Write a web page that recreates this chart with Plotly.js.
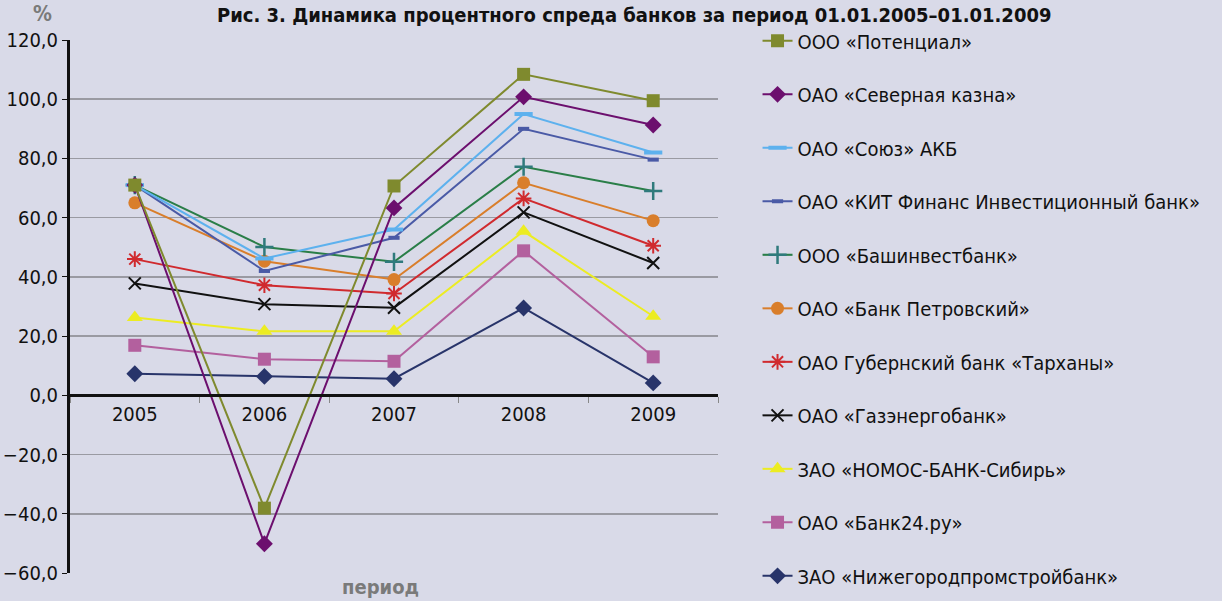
<!DOCTYPE html>
<html>
<head>
<meta charset="utf-8">
<script src="https://cdn.plot.ly/plotly-3.0.1.min.js"></script>
<style>
html,body{margin:0;padding:0;background:#d9dae8;}
#chart{width:1222px;height:601px;}
</style>
</head>
<body>
<div id="chart"></div>
<script>
const years = ['2005','2006','2007','2008','2009'];
const names = [
  'ООО «Потенциал»',
  'ОАО «Северная казна»',
  'ОАО «Союз» АКБ',
  'ОАО «КИТ Финанс Инвестиционный банк»',
  'ООО «Башинвестбанк»',
  'ОАО «Банк Петровский»',
  'ОАО Губернский банк «Тарханы»',
  'ОАО «Газэнергобанк»',
  'ЗАО «НОМОС-БАНК-Сибирь»',
  'ОАО «Банк24.ру»',
  'ЗАО «Нижегородпромстройбанк»'
];
const potencial   = [71.0, -38.1, 70.7, 108.4, 99.5];
const severnaya   = [71.0, -50.1, 63.3, 100.8, 91.3];
const soyuz       = [71.0, 46.2, 56.0, 95.0, 82.0];
const kit         = [71.0, 42.0, 53.2, 90.0, 79.6];
const bashinvest  = [71.0, 50.1, 45.1, 77.2, 69.0];
const petrovsky   = [65.0, 45.3, 39.1, 71.8, 59.0];
const tarkhany    = [46.0, 37.2, 34.4, 66.5, 50.5];
const gazenergo   = [37.8, 30.8, 29.6, 61.8, 44.7];
const nomos       = [26.3, 21.6, 21.6, 55.4, 26.7];
const bank24      = [16.9, 12.2, 11.5, 48.8, 13.0];
const nizhegorod  = [7.3, 6.4, 5.6, 29.5, 4.2];
const seriesValues = [potencial, severnaya, soyuz, kit, bashinvest, petrovsky, tarkhany, gazenergo, nomos, bank24, nizhegorod];
const yTicks = [-60, -40, -20, 0, 20, 40, 60, 80, 100, 120];

const styles = [
  {line:'#7f8a2e', marker:'#7f8a2e', symbol:'square', size:13, mlw:0},
  {line:'#6c0f6e', marker:'#6c0f6e', symbol:'diamond', size:13, mlw:0},
  {line:'#5db1ee', marker:'#5db1ee', symbol:'line-ew', size:13, mlw:4},
  {line:'#4a5aa6', marker:'#4a5aa6', symbol:'line-ew', size:8, mlw:4},
  {line:'#2a7e48', marker:'#2f7a7c', symbol:'cross-thin', size:13, mlw:2.5},
  {line:'#d97e2b', marker:'#d97e2b', symbol:'circle', size:13, mlw:0},
  {line:'#d02a2e', marker:'#d02a2e', symbol:'asterisk', size:13, mlw:2},
  {line:'#111111', marker:'#111111', symbol:'x-thin', size:12, mlw:2},
  {line:'#ecec22', marker:'#ecec22', symbol:'triangle-up', size:14, mlw:0},
  {line:'#b3609e', marker:'#b3609e', symbol:'square', size:13, mlw:0},
  {line:'#28346a', marker:'#28346a', symbol:'diamond', size:13, mlw:0}
];

const FONT = '"DejaVu Sans Condensed", "Liberation Sans Narrow", "Roboto", sans-serif';

const traces = names.map((n, i) => ({
  type:'scatter', mode:'lines+markers', name:n, x:years, y:seriesValues[i],
  legendgroup:'g'+i, legendrank:i+1,
  line:{color:styles[i].line, width:2},
  marker:{color:styles[i].marker, symbol:styles[i].symbol, size:styles[i].size,
          line:{color:styles[i].marker, width:styles[i].mlw}},
  cliponaxis:false
})).reverse();

const layout = {
  width:1222, height:601,
  paper_bgcolor:'#d9dae8', plot_bgcolor:'#d9dae8',
  margin:{l:70, r:504, t:40, b:28},
  font:{family:FONT, size:20, color:'#111'},
  title:{text:'<b>Рис. 3. Динамика процентного спреда банков за период 01.01.2005–01.01.2009</b>',
         x:0.519, xanchor:'center', xref:'container', y:0.975, yanchor:'middle', yref:'container',
         font:{family:FONT, size:20, color:'#111'}},
  separators:', ',
  showlegend:true,
  legend:{x:1.061, xanchor:'left', y:1.035, yanchor:'top', bgcolor:'rgba(0,0,0,0)', maxheight:600,
          font:{family:FONT, size:20, color:'#111'}, tracegroupgap:24.5, traceorder:'grouped'},
  xaxis:{type:'category', categoryorder:'array', categoryarray:years,
         anchor:'free', position:0.334, showline:true, linecolor:'#111', linewidth:3,
         ticks:'outside', tickson:'boundaries', ticklen:6, tickcolor:'#888', tickwidth:1,
         showgrid:false, zeroline:false, tickfont:{family:FONT, size:20, color:'#111'},
         range:[-0.5, 4.5]},
  yaxis:{range:[-60, 120], tickvals:yTicks, tickformat:'.1f', showline:true, linecolor:'#111', linewidth:3,
         ticks:'outside', ticklen:5, tickcolor:'#111', showgrid:true, gridcolor:'#9a9aa2', gridwidth:1.5,
         zeroline:false, tickfont:{family:FONT, size:20, color:'#111'}},
  annotations:[
    {text:'<b>%</b>', xref:'paper', yref:'paper', x:-0.043, y:1.048, xanchor:'center', yanchor:'middle',
     showarrow:false, font:{family:FONT, size:21, color:'#7a7a7a'}},
    {text:'<b>период</b>', xref:'paper', yref:'paper', x:0.479, y:-0.026, xanchor:'center', yanchor:'middle',
     showarrow:false, font:{family:FONT, size:20, color:'#7a7a7a'}}
  ]
};

Plotly.newPlot('chart', traces, layout, {displayModeBar:false, staticPlot:true});
</script>
</body>
</html>
